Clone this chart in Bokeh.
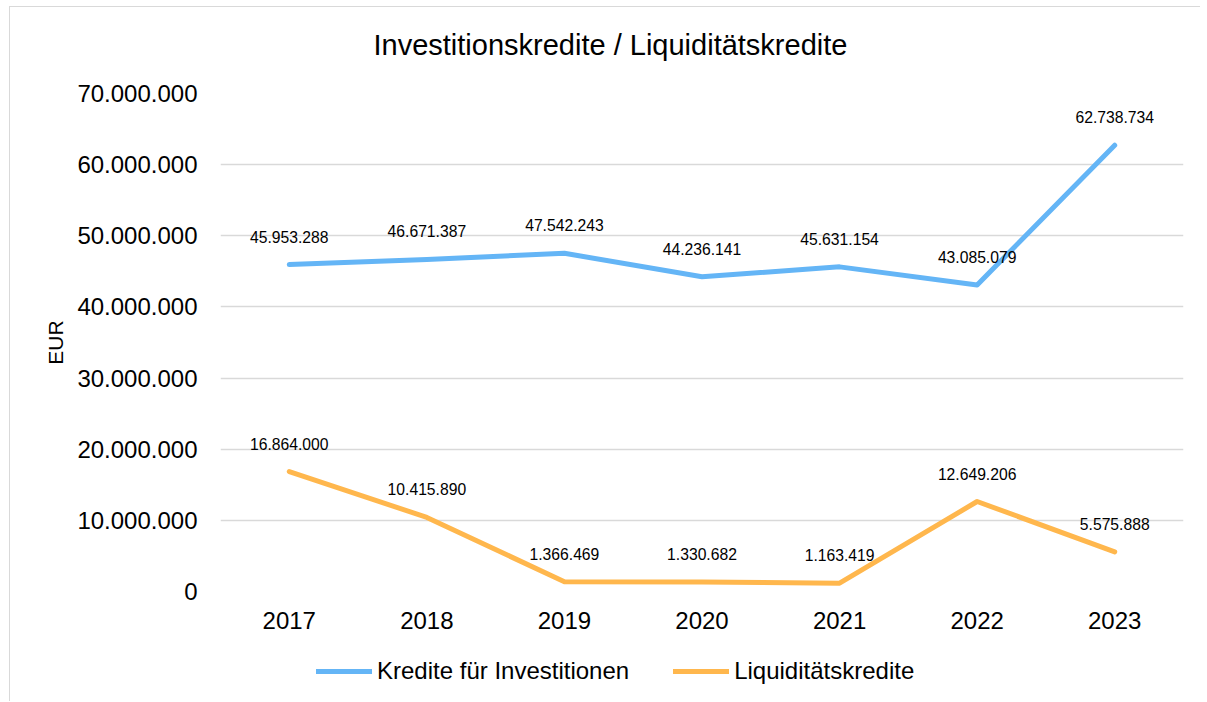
from bokeh.plotting import figure
from bokeh.layouts import column
from bokeh.models import (Range1d, FactorRange, CustomJSTickFormatter, Legend,
                          LegendItem, ColumnDataSource)
from bokeh.core.properties import value
from bokeh.embed import file_html
from bokeh.resources import INLINE

years = ["2017", "2018", "2019", "2020", "2021", "2022", "2023"]
investitionen = [45953288, 46671387, 47542243, 44236141, 45631154, 43085079, 62738734]
liquiditaet = [16864000, 10415890, 1366469, 1330682, 1163419, 12649206, 5575888]

title_text = "Investitionskredite / Liquiditätskredite"
series_names = ["Kredite für Investitionen", "Liquiditätskredite"]
y_label = "EUR"

BLUE = "#64B5F6"
ORANGE = "#FFB74D"
GRID = "#d9d9d9"
FONT = "Liberation Sans"


def de_fmt(v):
    return f"{v:,}".replace(",", ".")


src_inv = ColumnDataSource(dict(x=years, y=investitionen, t=[de_fmt(v) for v in investitionen]))
src_liq = ColumnDataSource(dict(x=years, y=liquiditaet, t=[de_fmt(v) for v in liquiditaet]))


def strip(height, top=0):
    f = figure(width=1190, height=height, output_backend="svg", toolbar_location=None,
               x_axis_type=None, y_axis_type=None,
               min_border_left=210, min_border_right=17, min_border_top=top, min_border_bottom=0)
    f.grid.visible = False
    f.outline_line_color = None
    f.border_fill_color = "white"
    return f


# title strip above the chart
pt = strip(64, top=62)
pt.title.text = title_text
pt.title.text_font = FONT
pt.title.text_font_size = "29px"
pt.title.text_font_style = "normal"
pt.title.text_color = "#000000"
pt.title.align = "left"
pt.title.offset = 153
pt.title.standoff = 17

p = figure(width=1190, height=576, output_backend="svg", toolbar_location=None,
           x_range=FactorRange(factors=years, range_padding=0),
           y_range=Range1d(0, 70000000),
           min_border_left=210, min_border_right=17, min_border_top=22, min_border_bottom=56)

p.outline_line_color = None
p.background_fill_color = "white"
p.border_fill_color = "white"

p.xgrid.grid_line_color = None
p.ygrid.grid_line_color = GRID
p.ygrid.grid_line_width = 1.3

p.yaxis.ticker = [0, 10000000, 20000000, 30000000, 40000000, 50000000, 60000000, 70000000]
p.yaxis.formatter = CustomJSTickFormatter(code="""
return Math.round(tick).toString().replace(/\\B(?=(\\d{3})+(?!\\d))/g, '.');
""")
for ax in (p.xaxis, p.yaxis):
    ax.axis_line_color = None
    ax.major_tick_line_color = None
    ax.minor_tick_line_color = None
    ax.major_tick_out = 0
    ax.major_tick_in = 0
    ax.minor_tick_out = 0
    ax.minor_tick_in = 0
    ax.major_label_text_font = FONT
    ax.major_label_text_font_size = "24px"
    ax.major_label_text_color = "#000000"
p.yaxis.major_label_standoff = 23
p.xaxis.major_label_standoff = 20
p.yaxis.axis_label = y_label
p.yaxis.axis_label_text_font = FONT
p.yaxis.axis_label_text_font_size = "21px"
p.yaxis.axis_label_text_font_style = "normal"
p.yaxis.axis_label_text_color = "#000000"
p.yaxis.axis_label_standoff = 7

r_inv = p.line("x", "y", source=src_inv, line_color=BLUE, line_width=5,
               line_cap="round", line_join="round")
r_liq = p.line("x", "y", source=src_liq, line_color=ORANGE, line_width=5,
               line_cap="round", line_join="round")

for src in (src_inv, src_liq):
    p.text("x", "y", text="t", source=src, y_offset=-28, text_align="center",
           text_baseline="middle", text_font=value(FONT), text_font_size="15.7px",
           text_color="#000000")

# legend strip below the chart
pl = strip(54)
l_inv = pl.line(x=[0], y=[0], line_color=BLUE, line_width=5, line_cap="round")
l_liq = pl.line(x=[0], y=[0], line_color=ORANGE, line_width=5, line_cap="round")
legend = Legend(items=[LegendItem(label=series_names[0], renderers=[l_inv]),
                       LegendItem(label=series_names[1], renderers=[l_liq])],
                orientation="horizontal", location=(96, 16),
                label_text_font=FONT, label_text_font_size="24px",
                label_text_color="#000000", glyph_width=56, glyph_height=20,
                label_standoff=5, spacing=44, padding=4, margin=0,
                border_line_color=None, background_fill_alpha=0)
pl.add_layout(legend, "center")

layout = column(pt, p, pl, spacing=0,
                styles={"margin-left": "9px", "margin-top": "6px",
                        "border-left": "1px solid #d9d9d9", "border-top": "1px solid #d9d9d9"})

open("out.html", "w").write(file_html(layout, INLINE))
